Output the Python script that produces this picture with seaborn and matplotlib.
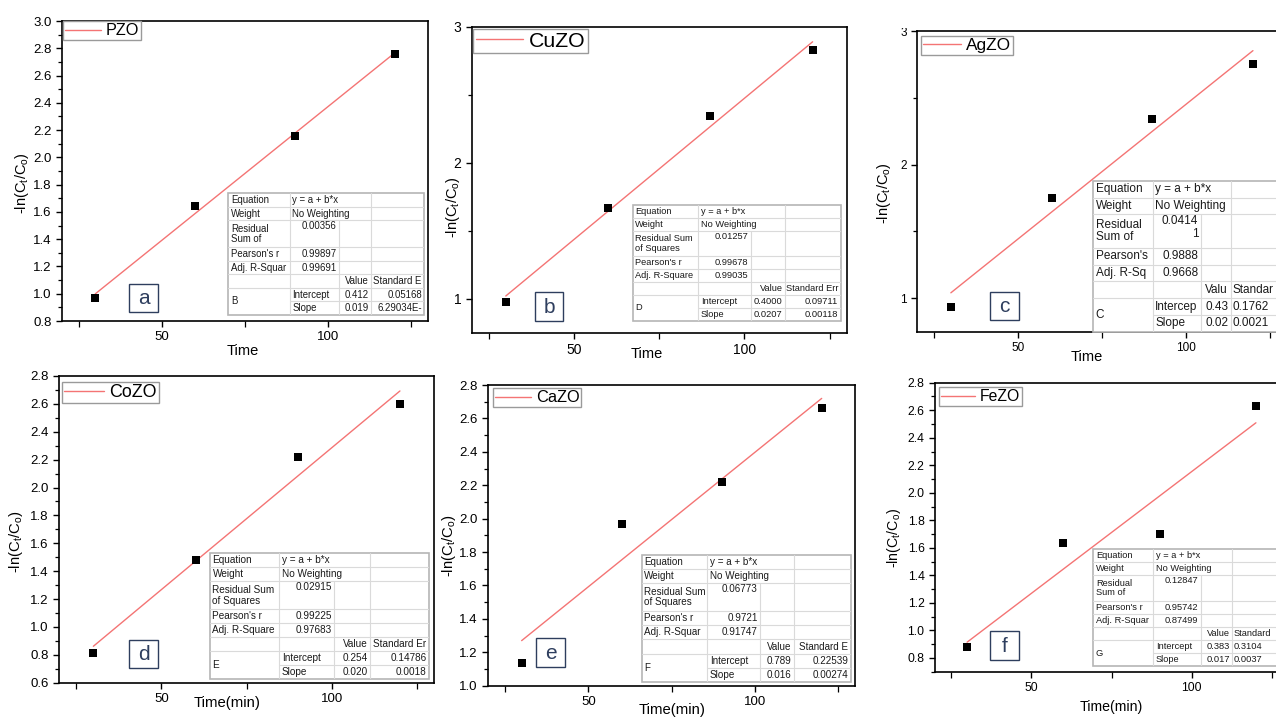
import numpy as np
import pandas as pd
import matplotlib
matplotlib.use("Agg")
import matplotlib.pyplot as plt
import seaborn as sns
from matplotlib.patches import Rectangle
from matplotlib.ticker import MultipleLocator, FormatStrFormatter

# ---------------- data ----------------
time_min = [30, 60, 90, 120]
y_pzo = [0.97, 1.64, 2.16, 2.76]
y_cuzo = [0.976, 1.67, 2.344, 2.828]
y_agzo = [0.937, 1.754, 2.343, 2.754]
y_cozo = [0.811, 1.48, 2.217, 2.60]
y_cazo = [1.134, 1.966, 2.218, 2.661]
y_fezo = [0.88, 1.636, 1.70, 2.63]
series = [y_pzo, y_cuzo, y_agzo, y_cozo, y_cazo, y_fezo]
names = ["PZO", "CuZO", "AgZO", "CoZO", "CaZO", "FeZO"]
letters = ["a", "b", "c", "d", "e", "f"]
xlabels = ["Time", "Time", "Time", "Time(min)", "Time(min)", "Time(min)"]

# fit-report tables (as printed in the figure)
row_labels = [
    ["Equation", "Weight", "Residual\nSum of", "Pearson's r", "Adj. R-Squar"],
    ["Equation", "Weight", "Residual Sum\nof Squares", "Pearson's r", "Adj. R-Square"],
    ["Equation", "Weight", "Residual\nSum of", "Pearson's", "Adj. R-Sq"],
    ["Equation", "Weight", "Residual Sum\nof Squares", "Pearson's r", "Adj. R-Square"],
    ["Equation", "Weight", "Residual Sum\nof Squares", "Pearson's r", "Adj. R-Squar"],
    ["Equation", "Weight", "Residual\nSum of", "Pearson's r", "Adj. R-Squar"],
]
rss = ["0.00356", "0.01257", "0.0414\n1", "0.02915", "0.06773", "0.12847"]
pearson = ["0.99897", "0.99678", "0.9888", "0.99225", "0.9721", "0.95742"]
adj_r2 = ["0.99691", "0.99035", "0.9668", "0.97683", "0.91747", "0.87499"]
value_hdr = ["Value", "Value", "Valu", "Value", "Value", "Value"]
stderr_hdr = ["Standard E", "Standard Err", "Standar", "Standard Er", "Standard E", "Standard"]
param_group = ["B", "D", "C", "E", "F", "G"]
intercept_lbl = ["Intercept", "Intercept", "Intercep", "Intercept", "Intercept", "Intercept"]
intercepts = ["0.412", "0.4000", "0.43", "0.254", "0.789", "0.383"]
slopes = ["0.019", "0.0207", "0.02", "0.020", "0.016", "0.017"]
intercept_err = ["0.05168", "0.09711", "0.1762", "0.14786", "0.22539", "0.3104"]
slope_err = ["6.29034E-", "0.00118", "0.0021", "0.0018", "0.00274", "0.0037"]

# ---------------- style ----------------
sns.set_theme(style="ticks")
plt.rcParams["font.family"] = ["Liberation Sans", "DejaVu Sans"]
plt.rcParams["mathtext.default"] = "regular"
plt.rcParams["text.color"] = "black"
plt.rcParams["axes.labelcolor"] = "black"

W, H = 1276, 717
fig = plt.figure(figsize=(W / 100, H / 100), dpi=100)
fig.patch.set_facecolor("white")


def fr(l, t, r, b):
    return [l / W, 1 - b / H, (r - l) / W, (b - t) / H]


LINE_RED = "#F47474"
LETTER_C = "#2E3E5E"

layout = [
    dict(rect=(62, 21, 428, 321), ylim=(0.8, 3.0), ymaj=0.2, ymin=0.1, fmt="%.1f", tfs=9.5, lfs=10.5,
         legfs=11.7, leg=(63, 21.5), ylc=(-0.085, 0.46), xlc=(0.495, -0.077), let=(143.5, 298),
         tab=(228.3, 193.3, 424.3, 315), cols=(290, 339.3, 371), tabfs=6.9),
    dict(rect=(471.7, 26.7, 846.7, 332.7), ylim=(0.75, 3.0), ymaj=1, ymin=0.5, fmt="%d", tfs=10, lfs=10.5,
         legfs=15.3, leg=(473.3, 29.3), ylc=(-0.027, 0.41), xlc=(0.467, -0.047), let=(549, 306.5),
         tab=(632.7, 205, 840.7, 320.7), cols=(698.3, 751, 785), tabfs=6.7),
    dict(rect=(917.3, 31, 1286.5, 331.7), ylim=(0.75, 3.0), ymaj=1, ymin=0.5, fmt="%d", tfs=8.5, lfs=10.5,
         legfs=12.4, leg=(921, 36), ylc=(-0.065, 0.461), xlc=(0.459, -0.061), let=(1004.7, 306),
         tab=(1093.3, 181, 1292, 331.7), cols=(1152.7, 1200.7, 1230.7), tabfs=8.5),
    dict(rect=(59.3, 376, 434, 682.7), ylim=(0.6, 2.8), ymaj=0.2, ymin=0.1, fmt="%.1f", tfs=9.5, lfs=10.7,
         legfs=12.9, leg=(62, 381.7), ylc=(-0.0915, 0.46), xlc=(0.447, -0.043), let=(143.5, 654),
         tab=(210, 553.3, 429, 679.3), cols=(279.3, 334.3, 370), tabfs=7.2),
    dict(rect=(488.3, 385, 855, 685.7), ylim=(1.0, 2.8), ymaj=0.2, ymin=0.1, fmt="%.1f", tfs=9.5, lfs=10.7,
         legfs=11.8, leg=(492.7, 388.3), ylc=(-0.082, 0.465), xlc=(0.502, -0.058), let=(550.7, 652.5),
         tab=(641.7, 555, 850.7, 681.7), cols=(707.3, 760, 794), tabfs=7.1),
    dict(rect=(935, 382.7, 1288, 671.7), ylim=(0.7, 2.8), ymaj=0.2, ymin=0.1, fmt="%.1f", tfs=8.8, lfs=10.2,
         legfs=11.3, leg=(938.7, 387.3), ylc=(-0.09, 0.463), xlc=(0.5, -0.098), let=(1004.7, 645.3),
         tab=(1093.3, 549.3, 1292, 666), cols=(1153.3, 1200.7, 1232.3), tabfs=6.7),
]


def draw_table(i, L):
    l, t, r, b = L["tab"]
    c1, c2, c3 = L["cols"]
    fs = L["tabfs"]
    tax = fig.add_axes(fr(l, t, r, b), zorder=5)
    tax.set_xlim(l, r)
    tax.set_ylim(b, t)
    tax.set_axis_off()
    tax.add_patch(Rectangle((l, t), r - l, b - t, facecolor="white", edgecolor="#B5B5B5",
                            lw=1.2, zorder=0, clip_on=False))
    u = (b - t) / 9.0
    edges = [t + k * u for k in (0, 1, 2, 4, 5, 6, 7, 8, 9)]
    gc = "#DADADA"
    for k in range(1, 8):
        x0 = c1 if k == 7 else l
        tax.plot([x0, r], [edges[k], edges[k]], color=gc, lw=0.8, zorder=1)
    tax.plot([c1, c1], [t, b], color=gc, lw=0.8, zorder=1)
    tax.plot([c2, c2], [edges[2], b], color=gc, lw=0.8, zorder=1)
    tax.plot([c3, c3], [t, b], color=gc, lw=0.8, zorder=1)
    pad = 2.5
    kw = dict(fontsize=fs, color="#1A1A1A", zorder=3)
    mid = lambda k: (edges[k] + edges[k + 1]) / 2
    labs = row_labels[i]
    tax.text(l + pad, mid(0), labs[0], ha="left", va="center", **kw)
    tax.text(l + pad, mid(1), labs[1], ha="left", va="center", **kw)
    tax.text(l + pad, mid(2), labs[2], ha="left", va="center", linespacing=1.05, **kw)
    tax.text(l + pad, mid(3), labs[3], ha="left", va="center", **kw)
    tax.text(l + pad, mid(4), labs[4], ha="left", va="center", **kw)
    tax.text(c1 + pad, mid(0), "y = a + b*x", ha="left", va="center", **kw)
    tax.text(c1 + pad, mid(1), "No Weighting", ha="left", va="center", **kw)
    tax.text(c2 - pad, edges[2] + 1, rss[i], ha="right", va="top", multialignment="right",
             linespacing=1.05, **kw)
    tax.text(c2 - pad, mid(3), pearson[i], ha="right", va="center", **kw)
    tax.text(c2 - pad, mid(4), adj_r2[i], ha="right", va="center", **kw)
    tax.text(c3 - pad, mid(5), value_hdr[i], ha="right", va="center", **kw)
    tax.text(l + pad, edges[7], param_group[i], ha="left", va="center", **kw)
    tax.text(c1 + pad, mid(6), intercept_lbl[i], ha="left", va="center", **kw)
    tax.text(c1 + pad, mid(7), "Slope", ha="left", va="center", **kw)
    tax.text(c3 - pad, mid(6), intercepts[i], ha="right", va="center", **kw)
    tax.text(c3 - pad, mid(7), slopes[i], ha="right", va="center", **kw)
    # last column: right-aligned normally, left-aligned when the table runs off the figure edge
    if r > W:
        xa, ha = c3 + 1.5, "left"
    else:
        xa, ha = r - pad, "right"
    tax.text(xa, mid(5), stderr_hdr[i], ha=ha, va="center", **kw)
    tax.text(xa, mid(6), intercept_err[i], ha=ha, va="center", **kw)
    tax.text(xa, mid(7), slope_err[i], ha=ha, va="center", **kw)


for i, L in enumerate(layout):
    l, t, r, b = L["rect"]
    ax = fig.add_axes(fr(l, t, r, b))
    ax.set_facecolor("white")
    df = pd.DataFrame({"t": time_min, "y": series[i]})
    sns.regplot(data=df, x="t", y="y", ax=ax, scatter=False, ci=None, truncate=True,
                line_kws=dict(color=LINE_RED, lw=1.0))
    fit_line = ax.get_lines()[0]
    sns.scatterplot(data=df, x="t", y="y", ax=ax, marker="s", s=30, color="black",
                    edgecolor="black", linewidth=0, zorder=4, legend=False)
    ax.set_xlim(20, 130)
    ax.set_ylim(*L["ylim"])
    ax.xaxis.set_major_locator(MultipleLocator(50))
    ax.xaxis.set_minor_locator(MultipleLocator(25))
    ax.yaxis.set_major_locator(MultipleLocator(L["ymaj"]))
    ax.yaxis.set_minor_locator(MultipleLocator(L["ymin"]))
    ax.yaxis.set_major_formatter(FormatStrFormatter(L["fmt"]))
    ax.tick_params(which="major", direction="out", length=4.5, width=1.0, pad=3,
                   labelsize=L["tfs"], colors="black", top=False, right=False,
                   bottom=True, left=True)
    ax.tick_params(which="minor", direction="out", length=3, width=0.9, top=False, right=False,
                   bottom=True, left=True, colors="black")
    ax.tick_params(axis="x", which="minor", length=4.5)
    for sp in ax.spines.values():
        sp.set_visible(True)
        sp.set_color("black")
        sp.set_linewidth(1.2)
    ax.set_xlabel(xlabels[i], fontsize=L["lfs"], color="black")
    ax.set_ylabel(r"-ln(C$_{t}$/C$_{o}$)", fontsize=L["lfs"], color="black")
    ax.xaxis.set_label_coords(*L["xlc"])
    ax.yaxis.set_label_coords(*L["ylc"])
    # legend
    lx, ly = L["leg"]
    anchor = ((lx - l) / (r - l), 1 - (ly - t) / (b - t))
    leg = ax.legend([fit_line], [names[i]], loc="upper left", bbox_to_anchor=anchor,
                    borderaxespad=0, fontsize=L["legfs"], frameon=True, fancybox=False,
                    edgecolor="#9A9A9A", framealpha=1, handlelength=2.2, handletextpad=0.3,
                    borderpad=0.12, labelcolor="black")
    leg.get_frame().set_linewidth(1.0)
    # panel letter box
    cx, cy = L["let"]
    bw = 28.5
    fig.add_artist(Rectangle(((cx - bw / 2) / W, 1 - (cy + bw / 2) / H), bw / W, bw / H,
                             transform=fig.transFigure, fill=False, edgecolor=LETTER_C, lw=1.0,
                             zorder=6))
    fig.text(cx / W, 1 - (cy + 1) / H, letters[i], ha="center", va="center", fontsize=15,
             color=LETTER_C, zorder=7)
    draw_table(i, L)

# white mask reproducing the cropped top of panel c
fig.add_artist(Rectangle((860 / W, 1 - 28 / H), 420 / W, 28 / H, transform=fig.transFigure,
                         facecolor="white", edgecolor="none", zorder=20))

fig.savefig("out.png", dpi=100, facecolor="white")
